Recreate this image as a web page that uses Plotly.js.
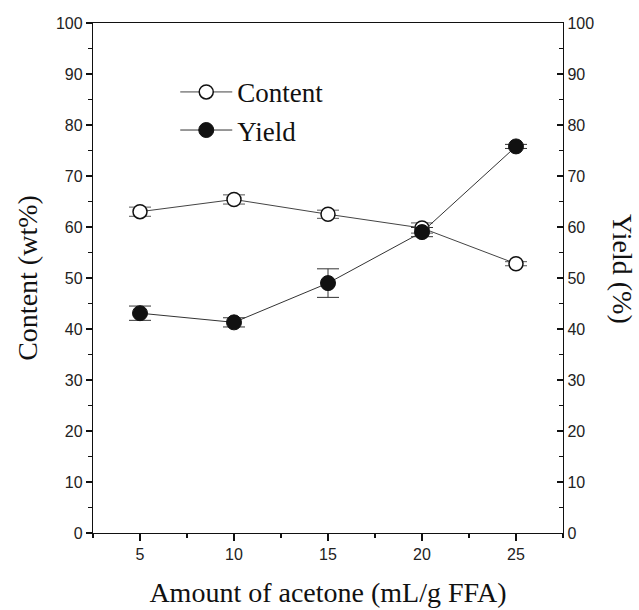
<!DOCTYPE html>
<html>
<head>
<meta charset="utf-8">
<script src="https://cdn.plot.ly/plotly-3.0.1.min.js"></script>
<style>html,body{margin:0;padding:0;background:#fff;}#chart{width:639px;height:610px;}</style>
</head>
<body>
<div id="chart"></div>
<script>
const acetone = [5, 10, 15, 20, 25];
const content = [63.0, 65.4, 62.5, 59.8, 52.8];
const contentErr = [0.9, 0.9, 0.8, 1.0, 0.4];
const yieldVals = [43.1, 41.3, 49.0, 59.0, 75.8];
const yieldErr = [1.4, 0.9, 2.8, 0.9, 0.4];
const yTicks = [0, 10, 20, 30, 40, 50, 60, 70, 80, 90, 100];
const xTicks = [5, 10, 15, 20, 25];

const serif = 'Liberation Serif, Times New Roman, serif';
const sans = 'Liberation Sans, Arial, sans-serif';

const traces = [
  {
    x: acetone, y: content, name: 'Content', type: 'scatter', mode: 'lines+markers',
    line: {color: '#444', width: 1},
    marker: {symbol: 'circle', size: 14, color: '#fff', line: {color: '#111', width: 1.5}},
    error_y: {type: 'data', array: contentErr, visible: true, color: '#555', thickness: 1, width: 11},
    xaxis: 'x', yaxis: 'y'
  },
  {
    x: acetone, y: yieldVals, name: 'Yield', type: 'scatter', mode: 'lines+markers',
    line: {color: '#333', width: 1},
    marker: {symbol: 'circle', size: 15, color: '#111', line: {color: '#111', width: 1}},
    error_y: {type: 'data', array: yieldErr, visible: true, color: '#333', thickness: 1, width: 11},
    xaxis: 'x', yaxis: 'y2'
  }
];

const axisCommon = {
  showgrid: false, zeroline: false, showline: true, linecolor: '#111', linewidth: 1.2,
  tickfont: {family: sans, size: 16, color: '#222'}, tickcolor: '#111', tickwidth: 1.2
};

const layout = {
  width: 639, height: 610,
  margin: {l: 93, r: 76, t: 23, b: 77},
  paper_bgcolor: '#fff', plot_bgcolor: '#fff',
  showlegend: true,
  legend: {
    x: 0.175, y: 0.912, xanchor: 'left', yanchor: 'top',
    font: {family: serif, size: 27, color: '#111'},
    bgcolor: 'rgba(0,0,0,0)', itemwidth: 52
  },
  xaxis: Object.assign({}, axisCommon, {
    range: [2.5, 27.5], tickvals: xTicks, ticks: 'outside', ticklen: 7, mirror: true,
    minor: {ticks: 'outside', ticklen: 4, dtick: 2.5, tick0: 0, tickcolor: '#111'},
    title: {text: 'Amount of acetone (mL/g FFA)', font: {family: serif, size: 28, color: '#111'}, standoff: 20}
  }),
  yaxis: Object.assign({}, axisCommon, {
    range: [0, 100], tickvals: yTicks, ticks: 'outside', ticklen: 6,
    minor: {ticks: 'outside', ticklen: 4, dtick: 5, tick0: 0, tickcolor: '#111'},
    title: {text: 'Content (wt%)', font: {family: serif, size: 28, color: '#111'}, standoff: 10}
  }),
  yaxis2: Object.assign({}, axisCommon, {
    range: [0, 100], tickvals: yTicks, ticks: 'inside', ticklen: 6, side: 'right', overlaying: 'y',
    minor: {ticks: 'inside', ticklen: 4, dtick: 5, tick0: 0, tickcolor: '#111'}
  }),
  annotations: [{
    text: 'Yield (%)', xref: 'paper', yref: 'paper', x: 1.125, y: 0.518,
    showarrow: false, textangle: 90, font: {family: serif, size: 28, color: '#111'},
    xanchor: 'center', yanchor: 'middle'
  }]
};

Plotly.newPlot('chart', traces, layout, {displayModeBar: false, staticPlot: true});
</script>
</body>
</html>
